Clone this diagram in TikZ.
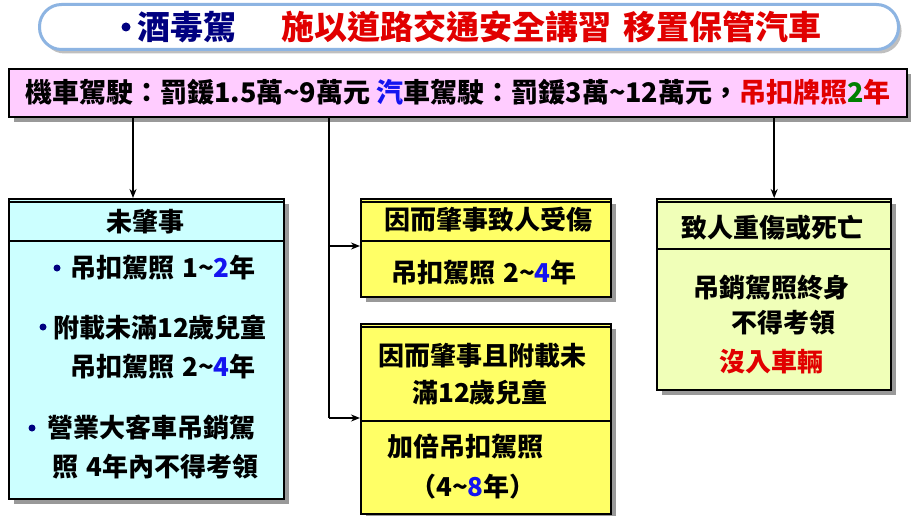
\documentclass[tikz,border=0pt]{standalone}
\usepackage{fontspec}
\setmainfont{Noto Sans CJK TC}
\usetikzlibrary{shadows,arrows.meta}
\definecolor{navyc}{RGB}{0,0,128}
\definecolor{redc}{RGB}{225,0,0}
\definecolor{pinkf}{RGB}{255,204,255}
\definecolor{cyanf}{RGB}{204,255,255}
\definecolor{yelf}{RGB}{255,255,102}
\definecolor{limef}{RGB}{240,255,184}
\definecolor{bluec}{RGB}{20,20,240}
\definecolor{greenc}{RGB}{0,128,0}
\definecolor{tborder}{RGB}{141,180,226}
\newcommand{\tld}{\char"7E\relax}
\begin{document}
\begin{tikzpicture}[x=1pt,y=-1pt,
  box/.style={draw=black, line width=2.4pt, inner sep=0pt, anchor=north west,
    drop shadow={shadow xshift=5pt, shadow yshift=-5pt, fill=black!40, opacity=1}},
  txt/.style={font=\bfseries\fontsize{26pt}{30pt}\selectfont, inner sep=0pt},
  ttl/.style={font=\bfseries\fontsize{33pt}{36pt}\selectfont, inner sep=0pt, anchor=west},
  conn/.style={line width=1.8pt},
  arr/.style={line width=1.8pt, -{Stealth[length=9pt,width=7pt]}},
  divl/.style={line width=2pt},
  dbl/.style={line width=1.2pt}]
\useasboundingbox (0,0) rectangle (911,516);
\fill[white] (0,0) rectangle (911,516);
% title
\node[draw=tborder, line width=3pt, rounded corners=22pt, fill=white, minimum width=859pt, minimum height=45pt,
  anchor=north west, inner sep=0pt,
  drop shadow={shadow xshift=3pt, shadow yshift=-4pt, fill=black!25, opacity=1}] (T) at (38,3) {};
\fill[navyc] (126,27) circle (4.5pt);
\node[ttl, text=navyc] (T1) at (137,27) {酒毒駕};
\node[ttl, text=redc] (T2) at (281,27) {施以道路交通安全講習\hspace{12pt}移置保管汽車};
% pink box
\node[box, fill=pinkf, minimum width=898pt, minimum height=48pt] (P) at (8,68) {};
\node[txt, font=\bfseries\fontsize{27pt}{30pt}\selectfont] (Pt) at (458,92)
  {機車駕駛：罰鍰1.5萬\tld 9萬元 {\color{bluec}汽}車駕駛：罰鍰3萬\tld 12萬元，{\color{redc}吊扣牌照}{\color{greenc}2}{\color{redc}年}};
% boxes
\node[box, fill=cyanf, minimum width=275pt, minimum height=300pt] (L) at (8,198) {};
\node[box, fill=yelf, minimum width=250pt, minimum height=98pt] (M1) at (360,198) {};
\node[box, fill=yelf, minimum width=250pt, minimum height=190pt] (M2) at (360,323) {};
\node[box, fill=limef, minimum width=234pt, minimum height=191pt] (R) at (656,198) {};
% double tops and dividers
\draw[dbl] (8,202) -- (283,202);
\draw[dbl] (360,202) -- (610,202);
\draw[dbl] (360,327) -- (610,327);
\draw[dbl] (656,202) -- (890,202);
\draw[divl] (8,241) -- (283,241);
\draw[divl] (360,241) -- (610,241);
\draw[divl] (360,421) -- (610,421);
\draw[divl] (656,249) -- (890,249);
% left box text
\node[txt] (Lh) at (145,222) {未肇事};
\fill[navyc] (57,268) circle (3.5pt);
\node[txt, anchor=west] (L1) at (70,268) {吊扣駕照\hspace{8pt}1\tld{\color{bluec}2}年};
\fill[navyc] (43,327) circle (3.5pt);
\node[txt, anchor=west] (L2) at (53,327) {附載未滿12歲兒童};
\node[txt, anchor=west] (L3) at (70,367) {吊扣駕照\hspace{8pt}2\tld{\color{bluec}4}年};
\fill[navyc] (32,428) circle (3.5pt);
\node[txt, anchor=west] (L4) at (47,428) {營業大客車吊銷駕};
\node[txt, anchor=west] (L5) at (52,467) {照\hspace{8pt}4年內不得考領};
% middle texts
\node[txt] (M1h) at (488,220) {因而肇事致人受傷};
\node[txt] (M1t) at (484,273) {吊扣駕照\hspace{8pt}2\tld{\color{bluec}4}年};
\node[txt] (M2a) at (482,356) {因而肇事且附載未};
\node[txt] (M2b) at (480,392) {滿12歲兒童};
\node[txt, anchor=west] (M2c) at (387,447) {加倍吊扣駕照};
\node[txt, anchor=west] (M2d) at (410,487) {（4\tld{\color{bluec}8}年）};
% right texts
\node[txt] (Rh) at (772,228) {致人重傷或死亡};
\node[txt] (R1) at (771,288) {吊銷駕照終身};
\node[txt] (R2) at (783,323) {不得考領};
\node[txt, text=redc] (R3) at (771,362) {沒入車輛};
% connectors
\coordinate (a1) at (133,198);
\draw[arr] (P.south -| a1) -- (a1);
\coordinate (mx) at (329,246);
\coordinate (my) at (329,418);
\draw[conn] (P.south -| my) -- (my);
\draw[arr] (mx) -- (M1.west |- mx);
\draw[arr] (my) -- (M2.west |- my);
\draw[arr] (P.south -| R.north) -- (R.north);
\end{tikzpicture}
\end{document}
